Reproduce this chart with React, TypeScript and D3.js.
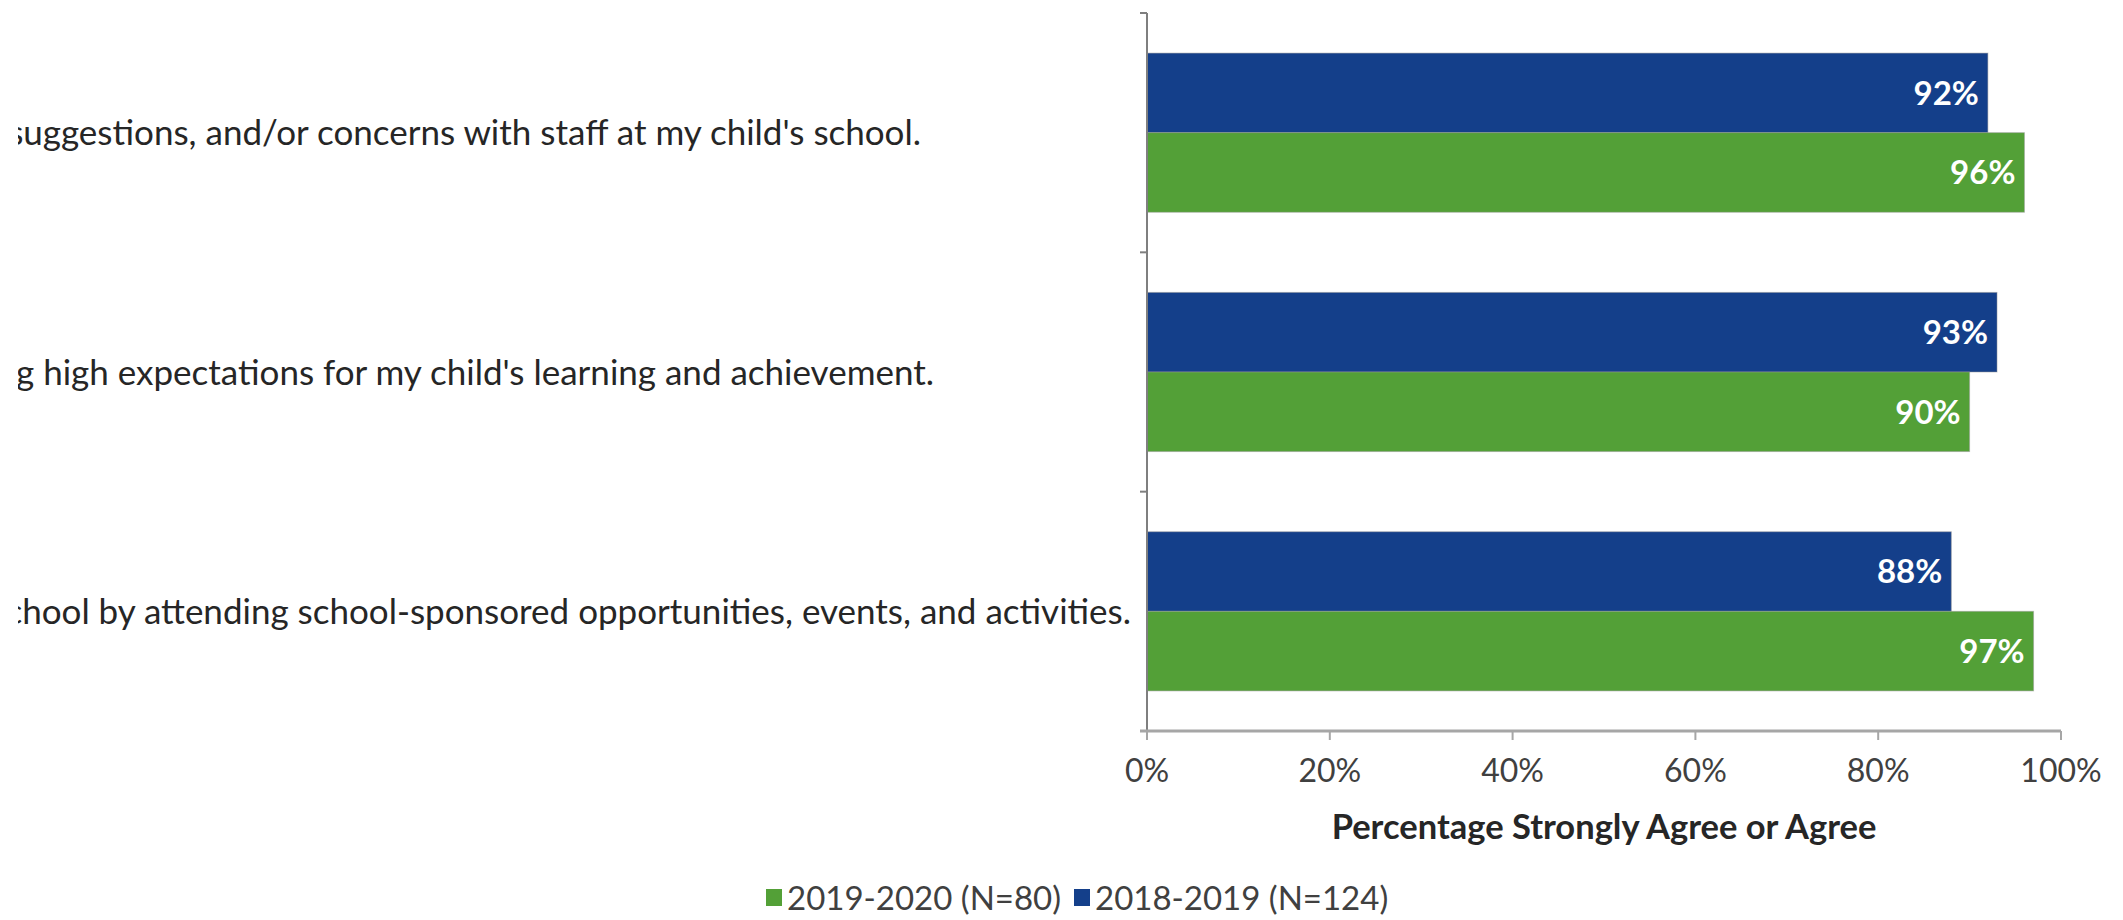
import React from 'react';
import * as d3 from 'd3';

const categories = [
  "suggestions, and/or concerns with staff at my child's school.",
  "g high expectations for my child's learning and achievement.",
  "chool by attending school-sponsored opportunities, events, and activities.",
];
const seriesNames = ["2019-2020 (N=80)", "2018-2019 (N=124)"];
const values2019_2020 = [96, 90, 97];
const values2018_2019 = [92, 93, 88];
const xTicks = [0, 20, 40, 60, 80, 100];
const axisTitle = "Percentage Strongly Agree or Agree";

const W = 2123;
const H = 920;
const M = { left: 1147, right: 2061, top: 13, bottom: 731 };
const LABEL_END_X = [921, 934, 1131];
const LABEL_CLIP_X = 18;
const LEGEND_X = [766, 1074];
const BLUE = '#143F8A';
const GREEN = '#53A037';
const FONT = 'Lato, "Open Sans", sans-serif';

export default function App() {
  const x = d3.scaleLinear().domain([0, 100]).range([M.left, M.right]);
  const idx = d3.range(categories.length);
  const y = d3.scaleBand<number>().domain(idx).range([M.top, M.bottom]).paddingInner(0.335).paddingOuter(0.1675);
  const inner = d3.scaleBand<string>().domain(['b', 'g']).range([0, y.bandwidth()]);
  const step = y.step();
  const bounds = d3.range(categories.length + 1).map((i) => M.top + i * step);
  const series = [
    { key: 'b', values: values2018_2019, color: BLUE },
    { key: 'g', values: values2019_2020, color: GREEN },
  ];
  const legendColors = [GREEN, BLUE];

  return (
    <svg width={W} height={H} style={{ position: 'absolute', left: 0, top: 0, background: '#fff' }} fontFamily={FONT}>
      <defs>
        <clipPath id="labelClip">
          <rect x={LABEL_CLIP_X} y={0} width={M.left - LABEL_CLIP_X} height={H} />
        </clipPath>
      </defs>
      <rect x={0} y={0} width={W} height={H} fill="#fff" />
      {/* category labels */}
      <g clipPath="url(#labelClip)">
        {categories.map((c, i) => (
          <text key={c} x={LABEL_END_X[i]} y={(y(i) as number) + y.bandwidth() / 2} dy="0.36em" textAnchor="end" fontSize={35} fill="#262626">
            {c}
          </text>
        ))}
      </g>
      {/* bars */}
      {series.map((s) =>
        s.values.map((v, i) => {
          const by = (y(i) as number) + (inner(s.key) as number);
          return (
            <g key={s.key + i}>
              <rect x={x(0)} y={by} width={x(v) - x(0)} height={inner.bandwidth()} fill={s.color} stroke="#9a9a9a" strokeOpacity={0.5} strokeWidth={1} />
              <text x={x(v) - 9} y={by + inner.bandwidth() / 2} dy="0.36em" textAnchor="end" fontSize={33} fontWeight={700} fill="#fff">
                {v}%
              </text>
            </g>
          );
        })
      )}
      {/* y axis */}
      <line x1={M.left} x2={M.left} y1={M.top} y2={M.bottom} stroke="#7f7f7f" strokeWidth={2} />
      {bounds.map((b) => (
        <line key={b} x1={M.left - 7} x2={M.left} y1={b} y2={b} stroke="#7f7f7f" strokeWidth={2} />
      ))}
      {/* x axis */}
      <line x1={M.left - 7} x2={M.right} y1={M.bottom} y2={M.bottom} stroke="#a6a6a6" strokeWidth={3} />
      {xTicks.map((t) => (
        <g key={t}>
          <line x1={x(t)} x2={x(t)} y1={M.bottom} y2={M.bottom + 9} stroke="#a6a6a6" strokeWidth={2} />
          <text x={x(t)} y={782} textAnchor="middle" fontSize={32} fill="#404040">
            {t}%
          </text>
        </g>
      ))}
      <text x={(M.left + M.right) / 2} y={839} textAnchor="middle" fontSize={34.5} fontWeight={700} fill="#262626">
        {axisTitle}
      </text>
      {/* legend */}
      {seriesNames.map((n, i) => (
        <g key={n}>
          <rect x={LEGEND_X[i]} y={889} width={16} height={17} fill={legendColors[i]} />
          <text x={LEGEND_X[i] + 21} y={910} fontSize={33} fill="#404040">
            {n}
          </text>
        </g>
      ))}
    </svg>
  );
}
